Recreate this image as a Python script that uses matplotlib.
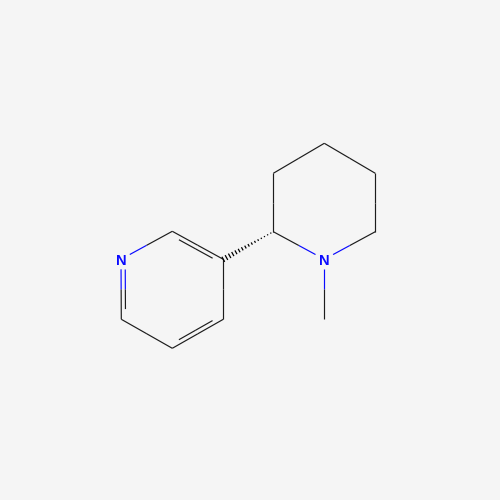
import numpy as np
import matplotlib
matplotlib.use("Agg")
import matplotlib.pyplot as plt

# Atom layout
atom_labels = ["N", "C", "C", "C", "C", "C", "C", "C", "C", "C", "C", "N", "C"]
atom_x = [121.0, 172.3, 223.3, 223.3, 172.3, 121.3, 273.3, 273.3, 324.3, 375.3, 375.3, 324.3, 324.3]
atom_y = [259.3, 231.3, 259.3, 319.3, 348.3, 319.3, 231.7, 173.3, 143.3, 173.3, 231.7, 259.3, 319.3]

single_bonds = [(0, 1), (2, 3), (4, 5), (6, 7), (7, 8), (8, 9), (9, 10), (10, 11), (11, 6), (11, 12)]
double_bonds = [(1, 2), (3, 4), (5, 0)]
hash_bonds = [(6, 2)]

BLACK = "#1c1c1c"
BLUE = "#0a0aff"
BG = "#f5f5f5"
LW = 0.85
LABEL_GAP = 10.0
INNER_OFFSET = 4.2
INNER_TRIM = 0.17
HASH_TICKS = 16
HASH_HALF_WIDTH = 2.9

fig = plt.figure(figsize=(5, 5), dpi=100, facecolor=BG)
ax = fig.add_axes([0, 0, 1, 1], facecolor=BG)
ax.set_xlim(0, 500)
ax.set_ylim(500, 0)
ax.axis("off")

pts = np.column_stack([atom_x, atom_y])
centre_a = pts[:6].mean(axis=0)


def colour(i):
    return BLUE if atom_labels[i] == "N" else BLACK


def half_segment(p, q, i, j):
    """Draw p-q split at its middle, each half in its atom's colour."""
    mid = (p + q) / 2
    ax.plot([p[0], mid[0]], [p[1], mid[1]], color=colour(i), lw=LW, solid_capstyle="butt")
    ax.plot([mid[0], q[0]], [mid[1], q[1]], color=colour(j), lw=LW, solid_capstyle="butt")


def trimmed(i, j):
    p, q = pts[i].copy(), pts[j].copy()
    u = (q - p) / np.linalg.norm(q - p)
    a, b = p.copy(), q.copy()
    if atom_labels[i] == "N":
        a = p + u * LABEL_GAP
    if atom_labels[j] == "N":
        b = q - u * LABEL_GAP
    return a, b


def draw_split(i, j):
    p, q = pts[i], pts[j]
    a, b = trimmed(i, j)
    mid = (p + q) / 2
    ax.plot([a[0], mid[0]], [a[1], mid[1]], color=colour(i), lw=LW, solid_capstyle="butt")
    ax.plot([mid[0], b[0]], [mid[1], b[1]], color=colour(j), lw=LW, solid_capstyle="butt")


for i, j in single_bonds:
    draw_split(i, j)

for i, j in double_bonds:
    draw_split(i, j)
    p, q = pts[i], pts[j]
    u = (q - p) / np.linalg.norm(q - p)
    n = np.array([-u[1], u[0]])
    if np.dot(n, centre_a - (p + q) / 2) < 0:
        n = -n
    L = np.linalg.norm(q - p)
    a = p + n * INNER_OFFSET + u * L * INNER_TRIM
    b = q + n * INNER_OFFSET - u * L * INNER_TRIM
    half_segment(a, b, i, j)

for i, j in hash_bonds:
    p, q = pts[i], pts[j]
    u = (q - p) / np.linalg.norm(q - p)
    n = np.array([-u[1], u[0]])
    for t in np.linspace(0.05, 1.0, HASH_TICKS):
        c = p + (q - p) * t
        w = max(HASH_HALF_WIDTH * t, 0.6)
        ax.plot([c[0] - n[0] * w, c[0] + n[0] * w], [c[1] - n[1] * w, c[1] + n[1] * w],
                color="black", lw=0.9, solid_capstyle="butt")

for i, lab in enumerate(atom_labels):
    if lab != "C":
        ax.text(pts[i, 0], pts[i, 1], lab, color=BLUE, fontsize=10.5, fontweight="bold",
                family="Liberation Sans", ha="center", va="center_baseline")

fig.savefig("out.png", dpi=100, facecolor=BG)
